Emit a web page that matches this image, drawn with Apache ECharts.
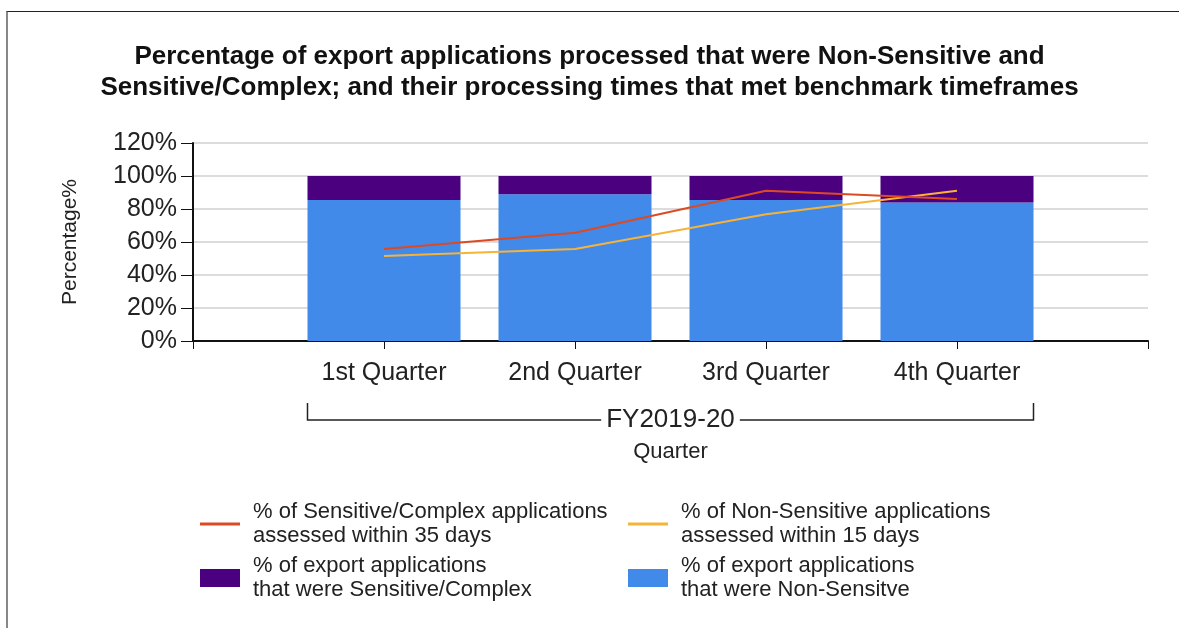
<!DOCTYPE html>
<html>
<head>
<meta charset="utf-8">
<script src="https://cdn.jsdelivr.net/npm/echarts@6/dist/echarts.min.js"></script>
<style>
  html, body { margin: 0; padding: 0; background: #fff; }
  #chart { width: 1179px; height: 628px; }
  /* frame lines from the original screenshot */
  .frame {
    position: absolute; left: 6px; top: 11px; width: 1200px; height: 700px;
    border-top: 1px solid #222; border-left: 2px solid #888;
    pointer-events: none;
  }
</style>
</head>
<body>
<div id="chart"></div>
<div class="frame"></div>
<script>
  // categories: blank slots at both ends so ticks sit on the axis ends
  var quarters = ["", "1st Quarter", "2nd Quarter", "3rd Quarter", "4th Quarter", ""];
  var yTicks = [0, 20, 40, 60, 80, 100, 120];

  // bars (stacked, % of export applications)
  var nonSensitive = [null, 85.5, 89, 85.5, 84, null];
  var sensitive = [null, 14.5, 11, 14.5, 16, null];

  // lines (% assessed within benchmark)
  var sensitiveIn35 = [null, 55.8, 65.6, 91, 86, null];
  var nonSensitiveIn15 = [null, 51.5, 55.8, 76.8, 91, null];

  var names = {
    red: "% of Sensitive/Complex applications\nassessed within 35 days",
    orange: "% of Non-Sensitive applications\nassessed within 15 days",
    purple: "% of export applications\nthat were Sensitive/Complex",
    blue: "% of export applications\nthat were Non-Sensitve"
  };

  var font = "'Liberation Sans', Arial, sans-serif";
  var barWidth = 153;
  var lineIcon = "path://M0,0 L40,0 L40,3 L0,3 Z";
  var chart = echarts.init(document.getElementById("chart"));

  var legendText = { fontSize: 22, color: "#222", fontFamily: font, lineHeight: 24, padding: [0, 0, 0, 8] };

  chart.setOption({
    animation: false,
    title: {
      text: "Percentage of export applications processed that were Non-Sensitive and\nSensitive/Complex; and their processing times that met benchmark timeframes",
      left: "center",
      top: 36,
      textStyle: { fontSize: 26, fontWeight: "bold", color: "#111", fontFamily: font, lineHeight: 31 }
    },
    grid: { left: 193, right: 31, top: 143, bottom: 287 },
    legend: [
      {
        left: 200, top: 500, orient: "vertical", itemWidth: 40, itemHeight: 18, itemGap: 6,
        padding: 0, textStyle: legendText,
        data: [{ name: names.red, icon: lineIcon }, { name: names.purple, icon: "rect" }]
      },
      {
        left: 628, top: 500, orient: "vertical", itemWidth: 40, itemHeight: 18, itemGap: 6,
        padding: 0, textStyle: legendText,
        data: [{ name: names.orange, icon: lineIcon }, { name: names.blue, icon: "rect" }]
      }
    ],
    xAxis: {
      type: "category",
      data: quarters,
      boundaryGap: false,
      name: "Quarter",
      nameLocation: "middle",
      nameGap: 100,
      nameTextStyle: { fontSize: 22, color: "#222", fontFamily: font },
      axisLine: { lineStyle: { color: "#111", width: 2 } },
      axisTick: { length: 8, lineStyle: { color: "#111" } },
      axisLabel: { fontSize: 25, color: "#222", fontFamily: font, margin: 20, interval: 0 },
      splitLine: { show: false }
    },
    yAxis: {
      type: "value",
      min: yTicks[0],
      max: yTicks[yTicks.length - 1],
      interval: 20,
      name: "Percentage%",
      nameLocation: "middle",
      nameGap: 112,
      nameTextStyle: { fontSize: 21, color: "#222", fontFamily: font },
      axisLine: { show: true, lineStyle: { color: "#111", width: 2 } },
      axisTick: { show: true, length: 12, lineStyle: { color: "#111" } },
      axisLabel: { fontSize: 25, color: "#222", fontFamily: font, margin: 16, formatter: "{value}%" },
      splitLine: { lineStyle: { color: "#dcdcdc", width: 2 } }
    },
    series: [
      {
        name: names.blue, type: "bar", stack: "total", barWidth: barWidth,
        itemStyle: { color: "#418aea" }, data: nonSensitive
      },
      {
        name: names.purple, type: "bar", stack: "total", barWidth: barWidth,
        itemStyle: { color: "#4b0080" }, data: sensitive
      },
      {
        name: names.red, type: "line", symbol: "none",
        lineStyle: { color: "#dd4a22", width: 2 }, itemStyle: { color: "#dd4a22" },
        data: sensitiveIn35, z: 5
      },
      {
        name: names.orange, type: "line", symbol: "none",
        lineStyle: { color: "#f7b338", width: 2 }, itemStyle: { color: "#f7b338" },
        data: nonSensitiveIn15, z: 4
      }
    ]
  });

  // FY bracket under the quarter labels, placed from the axis scale
  var x1 = chart.convertToPixel({ xAxisIndex: 0 }, quarters[1]) - barWidth / 2;
  var x4 = chart.convertToPixel({ xAxisIndex: 0 }, quarters[4]) + barWidth / 2;
  var yLine = 420;
  chart.setOption({
    graphic: [
      { type: "polyline", shape: { points: [[x1, 403], [x1, yLine], [x4, yLine], [x4, 403]] },
        style: { stroke: "#222", lineWidth: 1.5, fill: null } },
      { type: "text", x: (x1 + x4) / 2, y: yLine,
        style: { text: "FY2019-20", fontSize: 26, fill: "#222", fontFamily: font,
                 align: "center", verticalAlign: "middle", backgroundColor: "#fff", padding: [0, 5] } }
    ]
  });
</script>
</body>
</html>
